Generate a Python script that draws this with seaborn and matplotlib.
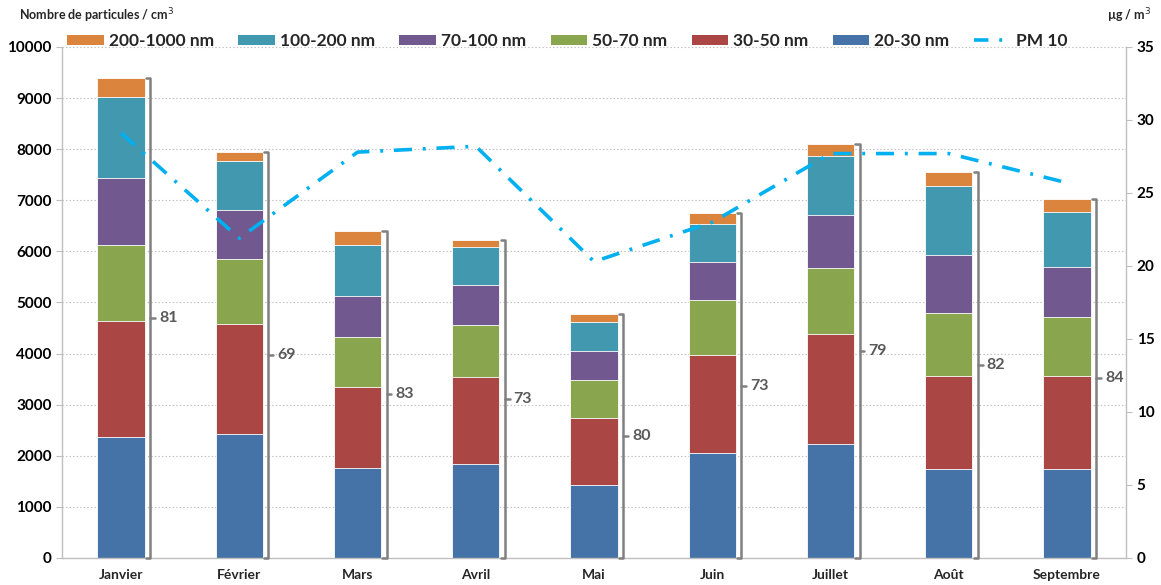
import numpy as np
import pandas as pd
import matplotlib
matplotlib.use("Agg")
import matplotlib.pyplot as plt
import seaborn as sns
from matplotlib.patches import Patch
from matplotlib.lines import Line2D

# DATA
months = ['Janvier', 'Février', 'Mars', 'Avril', 'Mai', 'Juin', 'Juillet', 'Août', 'Septembre']
nm_20_30 = [2370, 2430, 1760, 1840, 1430, 2050, 2230, 1740, 1740]
nm_30_50 = [2270, 2150, 1590, 1700, 1310, 1920, 2150, 1820, 1820]
nm_50_70 = [1485, 1270, 970, 1020, 740, 1080, 1295, 1235, 1155]
nm_70_100 = [1315, 960, 810, 780, 570, 740, 1035, 1135, 980]
nm_100_200 = [1580, 960, 995, 750, 570, 750, 1160, 1350, 1075]
nm_200_1000 = [370, 180, 275, 130, 155, 210, 230, 270, 255]
pm10 = [29.1, 21.9, 27.8, 28.2, 20.3, 23.0, 27.7, 27.7, 25.7]
share_labels = [81, 69, 83, 73, 80, 73, 79, 82, 84]

series_names = ['20-30 nm', '30-50 nm', '50-70 nm', '70-100 nm', '100-200 nm', '200-1000 nm']
series_vals = [nm_20_30, nm_30_50, nm_50_70, nm_70_100, nm_100_200, nm_200_1000]
colors = ['#4572A7', '#AA4643', '#89A54E', '#71588F', '#4198AF', '#DB843D']

sns.set_style('white')
plt.rcParams['font.family'] = ['Lato', 'DejaVu Sans']

fig = plt.figure(figsize=(11.61, 5.85), dpi=100)
ax = fig.add_axes([0.0534, 0.0462, 0.9166, 0.8735])

df = pd.DataFrame(dict(zip(series_names, series_vals)), index=months)
cum = df.cumsum(axis=1)

# stacked bars: draw cumulative totals from top series down
for name, col in reversed(list(zip(series_names, colors))):
    sns.barplot(x=months, y=cum[name].values, color=col, width=0.4, saturation=1,
                edgecolor='white', linewidth=0.6, ax=ax, order=months)

ax.set_ylim(0, 10000)
ax.set_xlim(-0.5, len(months) - 0.5)
ax.set_yticks(np.arange(0, 10001, 1000))
ax.yaxis.grid(True, linestyle=(0, (1.2, 2)), color='#BDBDBD', linewidth=0.8)
ax.set_axisbelow(True)

# brackets showing share
totals = cum[series_names[-1]].values
gray = '#808080'
for i, (tot, lab) in enumerate(zip(totals, share_labels)):
    bx = i + 0.245
    ax.plot([bx - 0.035, bx, bx, bx - 0.035], [tot, tot, 0, 0], color=gray, lw=1.8,
            solid_joinstyle='round', zorder=4, clip_on=False)
    ax.plot([bx, bx + 0.04], [tot / 2, tot / 2], color=gray, lw=1.8, zorder=4)
    ax.text(bx + 0.075, tot / 2, str(lab), color='#595959', fontsize=11.5, fontweight='bold',
            va='center', ha='left')

# PM10 on secondary axis
ax2 = ax.twinx()
sns.lineplot(x=np.arange(len(months)), y=pm10, color='#00B0F0', lw=2.6,
             linestyle=(0, (5, 3, 0.8, 3)), ax=ax2, zorder=5)
ax2.set_ylim(0, 35)
ax2.set_yticks(np.arange(0, 36, 5))
ax2.set_xlim(-0.5, len(months) - 0.5)

for a in (ax, ax2):
    a.spines['top'].set_visible(False)
    for s in ['left', 'right', 'bottom']:
        a.spines[s].set_color('#BFBFBF')
        a.spines[s].set_linewidth(1.0)
    a.tick_params(axis='y', labelsize=11, colors='#BFBFBF', labelcolor='black',
                  length=4, width=0.8)
    for t in a.get_yticklabels():
        t.set_fontweight('bold')

ax.spines['right'].set_visible(False)
ax2.spines['left'].set_visible(False)
ax2.spines['bottom'].set_visible(False)

ax.set_xticks(range(len(months)))
ax.set_xticklabels(months, fontsize=10, fontweight='bold')
ax.set_xticks(np.arange(0.5, len(months) - 0.5, 1), minor=True)
ax.tick_params(axis='x', which='major', length=0, pad=8)
ax.tick_params(axis='x', which='minor', length=5, color='#BFBFBF', width=0.8)
ax.set_xlabel('')
ax.set_ylabel('')
ax2.set_ylabel('')

fig.text(0.016, 0.974, 'Nombre de particules / cm$^3$', fontsize=9, fontweight='bold',
         ha='left', va='center')
fig.text(0.992, 0.974, 'µg / m$^3$', fontsize=9, fontweight='bold', ha='right', va='center')

handles = [Patch(facecolor=c, edgecolor='none') for c in reversed(colors)]
labels = list(reversed(series_names))
handles.append(Line2D([0], [0], color='#00B0F0', lw=2.6, linestyle=(0, (4, 3, 0.8, 3))))
labels.append('PM 10')
leg = fig.legend(handles, labels, loc='center', bbox_to_anchor=(0.4885, 0.93), ncol=7,
                 frameon=False, fontsize=12.5, handlelength=2.1, handleheight=0.55,
                 columnspacing=1.4, handletextpad=0.3)
for t in leg.get_texts():
    t.set_fontweight('bold')

fig.savefig('out.png', dpi=100)
